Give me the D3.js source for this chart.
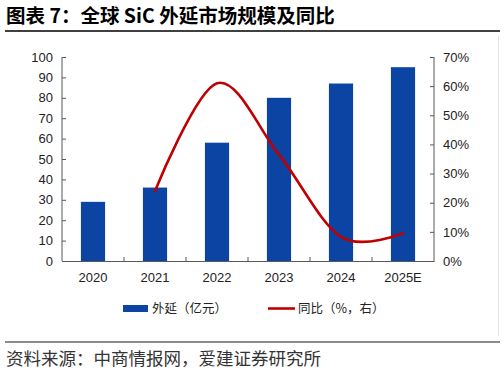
<!DOCTYPE html>
<html>
<head>
<meta charset="utf-8">
<script src="https://cdn.jsdelivr.net/npm/d3@7"></script>
<style>
  body { margin: 0; background: #fff; }
  text { font-family: "Liberation Sans", Arial, "Noto Sans CJK SC", sans-serif; }
  .cjk { font-family: "Noto Sans CJK SC", sans-serif; }
</style>
</head>
<body>
<svg id="chart"></svg>
<script>
const years = ["2020", "2021", "2022", "2023", "2024", "2025E"]
const marketSize = [29, 36, 58, 80, 87, 95] // 亿元
const yoy = [null, 24, 61, 36.5, 8.3, 9.5] // %
const leftTicks = [0, 10, 20, 30, 40, 50, 60, 70, 80, 90, 100]
const rightTicks = [0, 10, 20, 30, 40, 50, 60, 70]

const width = 504
const height = 374
const plot = { left: 62, right: 434, top: 57, bottom: 261 }

const svg = d3.select("#chart")
    .attr("width", width)
    .attr("height", height)

// title and rules
svg.append("text")
    .attr("class", "cjk")
    .attr("x", 6)
    .attr("y", 23)
    .attr("font-size", 19.5)
    .attr("font-weight", "bold")
    .attr("fill", "#000")
    .text("图表 7：全球 SiC 外延市场规模及同比")

svg.append("line")
    .attr("x1", 5).attr("x2", 500)
    .attr("y1", 31).attr("y2", 31)
    .attr("stroke", "#000").attr("stroke-width", 1.5)

svg.append("line")
    .attr("x1", 5).attr("x2", 500)
    .attr("y1", 342).attr("y2", 342)
    .attr("stroke", "#666").attr("stroke-width", 1.5)

svg.append("text")
    .attr("class", "cjk")
    .attr("x", 6)
    .attr("y", 365)
    .attr("font-size", 17.5)
    .attr("fill", "#333")
    .text("资料来源：中商情报网，爱建证券研究所")

// scales
const x = d3.scaleBand()
    .domain(years)
    .range([plot.left, plot.right])
    .paddingInner(0.61)
    .paddingOuter(0.305)

const xStep = d3.scaleBand().domain(years).range([plot.left, plot.right])

const yLeft = d3.scaleLinear().domain([0, 100]).range([plot.bottom, plot.top])
const yRight = d3.scaleLinear().domain([0, 70]).range([plot.bottom, plot.top])

// bars
svg.append("g")
    .selectAll("rect")
    .data(marketSize)
    .enter()
    .append("rect")
    .attr("x", (d, i) => x(years[i]))
    .attr("y", d => yLeft(d))
    .attr("width", x.bandwidth())
    .attr("height", d => yLeft(0) - yLeft(d))
    .attr("fill", "#0B44A3")

// yoy line
const line = d3.line()
    .defined(d => d != null)
    .x((d, i) => xStep(years[i]) + xStep.bandwidth() / 2)
    .y(d => yRight(d))
    .curve(d3.curveCardinal.tension(0))

svg.append("path")
    .datum(yoy)
    .attr("d", line)
    .attr("fill", "none")
    .attr("stroke", "#C00000")
    .attr("stroke-width", 2.6)
    .attr("stroke-linecap", "round")

// axes
const axisColor = "#595959"

const gLeft = svg.append("g")
    .attr("transform", `translate(${plot.left},0)`)
    .call(d3.axisLeft(yLeft).tickValues(leftTicks).tickSize(-4).tickPadding(9))
const gRight = svg.append("g")
    .attr("transform", `translate(${plot.right},0)`)
    .call(d3.axisRight(yRight).tickValues(rightTicks).tickSize(-4).tickPadding(9).tickFormat(d => d + "%"))
const gBottom = svg.append("g")
    .attr("transform", `translate(0,${plot.bottom})`)
    .call(d3.axisBottom(xStep).tickSize(0).tickPadding(12))

// band boundary ticks on x axis
svg.append("g")
    .selectAll("line")
    .data(years.slice(1))
    .enter()
    .append("line")
    .attr("x1", d => xStep(d)).attr("x2", d => xStep(d))
    .attr("y1", plot.bottom).attr("y2", plot.bottom - 4)
    .attr("stroke", axisColor)

for (const g of [gLeft, gRight, gBottom]) {
    g.select(".domain").attr("stroke", axisColor).attr("stroke-width", 1)
    g.selectAll(".tick line").attr("stroke", axisColor)
    g.selectAll(".tick text")
        .attr("font-size", 13)
        .attr("fill", "#222")
        .attr("font-family", "'Liberation Sans', Arial, sans-serif")
}
gLeft.select(".domain").attr("d", `M0,${plot.top}V${plot.bottom}`)
gRight.select(".domain").attr("d", `M0,${plot.top}V${plot.bottom}`)

// legend
const legend = svg.append("g").attr("font-size", 12.5)
legend.append("rect")
    .attr("x", 123).attr("y", 305)
    .attr("width", 25).attr("height", 7)
    .attr("fill", "#0B44A3")
legend.append("text")
    .attr("class", "cjk")
    .attr("x", 152).attr("y", 313)
    .attr("fill", "#222")
    .text("外延（亿元）")
legend.append("line")
    .attr("x1", 268).attr("x2", 295)
    .attr("y1", 308.5).attr("y2", 308.5)
    .attr("stroke", "#C00000").attr("stroke-width", 2.6)
legend.append("text")
    .attr("class", "cjk")
    .attr("x", 298).attr("y", 313)
    .attr("fill", "#222")
    .text("同比（%，右）")

// faint right frame edge
svg.append("line")
    .attr("x1", 498.5).attr("x2", 498.5)
    .attr("y1", 36).attr("y2", 336)
    .attr("stroke", "#e4e4e4")
</script>
</body>
</html>
